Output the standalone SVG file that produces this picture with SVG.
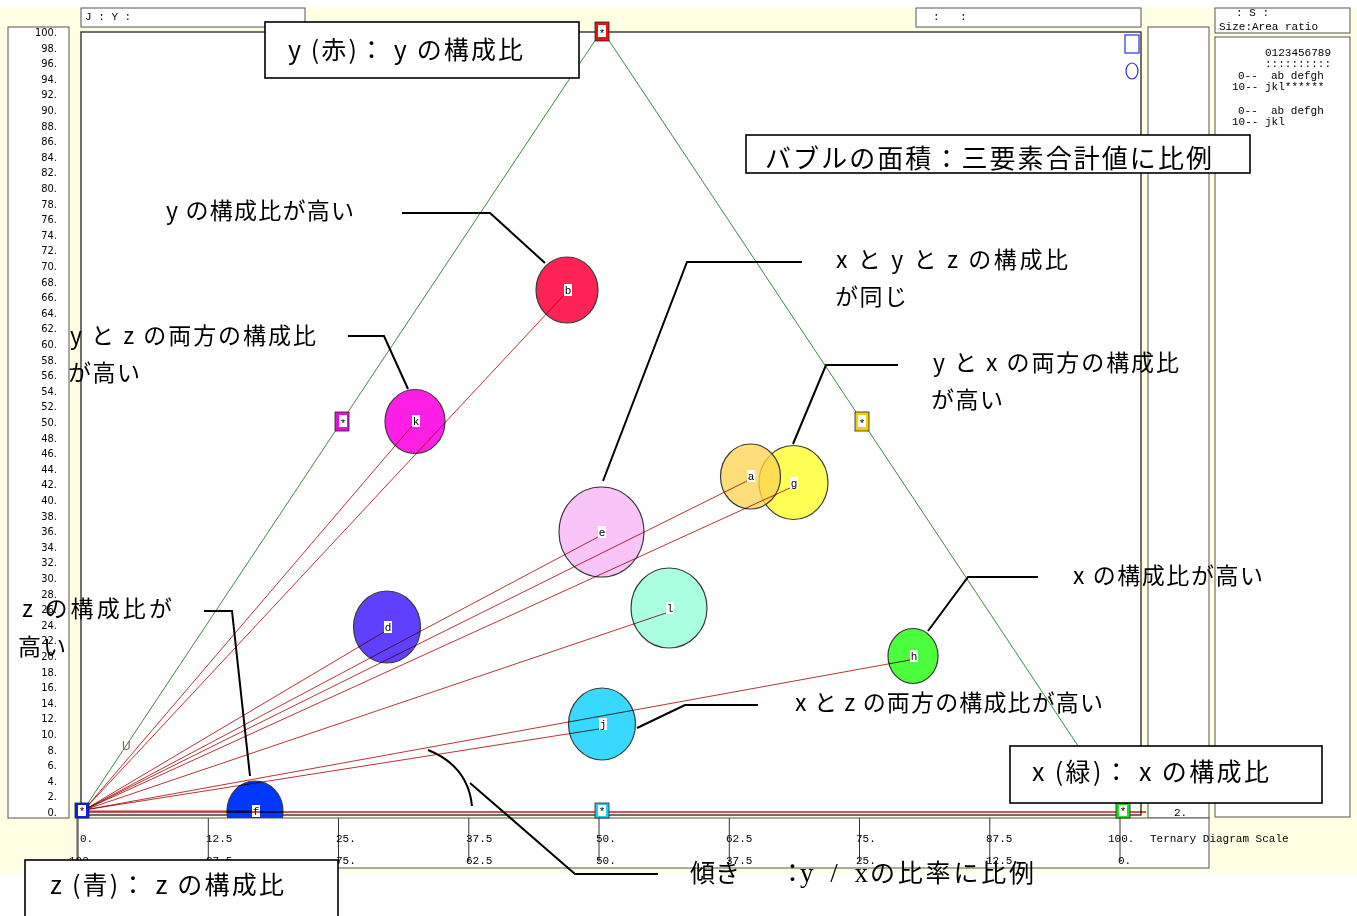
<svg xmlns="http://www.w3.org/2000/svg" width="1357" height="916" viewBox="0 0 1357 916">
<style>
.ax{font-family:"Liberation Sans Narrow","DejaVu Sans Condensed","Liberation Sans",sans-serif;font-size:11px;fill:#000;text-anchor:end}
.mono{font-family:"Liberation Mono","DejaVu Sans Mono",monospace;font-size:11px;fill:#000}
.jp{font-family:"Noto Sans CJK JP","Noto Sans",sans-serif;font-size:23px;fill:#000}
.jpb{font-family:"Noto Sans CJK JP","Noto Sans",sans-serif;font-size:25px;fill:#000}
.ser{font-family:"Liberation Serif","Noto Sans CJK JP",serif;font-size:27px;fill:#000}
.box{fill:#fff;stroke:#000;stroke-width:1.6}
.panel{fill:#fff;stroke:#555;stroke-width:1}
.lead{fill:none;stroke:#000;stroke-width:2}
.ray{stroke:#B83434;stroke-width:1;mix-blend-mode:multiply}
.tri{stroke:#3C8A3C;stroke-width:1;fill:none}
.bub{stroke:#3a3a3a;stroke-width:1.2}
.lbl{fill:#fff}
.lt{font-family:"Liberation Mono","DejaVu Sans Mono",monospace;font-size:11px;fill:#000;text-anchor:middle}
.mk{stroke:#222;stroke-width:0.8}
.tick{stroke:#333;stroke-width:1}
</style>
<defs>
<clipPath id="plotclip"><rect x="81" y="32" width="1060" height="786"/></clipPath>
</defs>

<!-- background -->
<rect x="0" y="0" width="1357" height="916" fill="#fff"/>
<rect x="0" y="8" width="1357" height="865" fill="#FFFFE3"/>

<!-- panels -->
<rect class="panel" x="81" y="8" width="224" height="19"/>
<text class="mono" x="85" y="20">J : Y :</text>
<rect class="panel" x="916" y="8" width="225" height="19"/>
<text class="mono" x="933" y="20">:</text>
<text class="mono" x="960" y="20">:</text>
<rect class="panel" x="8" y="27" width="61" height="791"/>
<rect class="panel" x="81" y="32" width="1060" height="783" style="stroke:#333;stroke-width:1.4"/>
<rect class="panel" x="1148" y="27" width="61" height="791"/>
<text class="mono" x="1174" y="816">2.</text>
<rect class="panel" x="1215" y="8" width="135" height="25"/>
<text class="mono" x="1236" y="16">: S :</text>
<text class="mono" x="1219" y="30">Size:Area ratio</text>
<rect class="panel" x="1215" y="37" width="135" height="780"/>
<text class="mono" x="1265" y="56">0123456789</text>
<text class="mono" x="1265" y="67">::::::::::</text>
<text class="mono" x="1238" y="79" xml:space="preserve">0--  ab defgh</text>
<text class="mono" x="1232" y="90" xml:space="preserve">10-- jkl******</text>
<text class="mono" x="1238" y="114" xml:space="preserve">0--  ab defgh</text>
<text class="mono" x="1232" y="125" xml:space="preserve">10-- jkl</text>

<!-- plot legend symbols -->
<rect x="1125" y="35" width="14" height="18" fill="none" stroke="#2233EE" stroke-width="1.2"/>
<ellipse cx="1132" cy="71" rx="6" ry="8" fill="none" stroke="#2233EE" stroke-width="1.2"/>

<!-- left axis labels -->
<g id="y-axis">
<text class="ax" x="57" y="36">100.</text>
<text class="ax" x="57" y="51.6">98.</text>
<text class="ax" x="57" y="67.2">96.</text>
<text class="ax" x="57" y="82.8">94.</text>
<text class="ax" x="57" y="98.4">92.</text>
<text class="ax" x="57" y="114">90.</text>
<text class="ax" x="57" y="129.6">88.</text>
<text class="ax" x="57" y="145.2">86.</text>
<text class="ax" x="57" y="160.8">84.</text>
<text class="ax" x="57" y="176.4">82.</text>
<text class="ax" x="57" y="192">80.</text>
<text class="ax" x="57" y="207.6">78.</text>
<text class="ax" x="57" y="223.2">76.</text>
<text class="ax" x="57" y="238.8">74.</text>
<text class="ax" x="57" y="254.4">72.</text>
<text class="ax" x="57" y="270">70.</text>
<text class="ax" x="57" y="285.6">68.</text>
<text class="ax" x="57" y="301.2">66.</text>
<text class="ax" x="57" y="316.8">64.</text>
<text class="ax" x="57" y="332.4">62.</text>
<text class="ax" x="57" y="348">60.</text>
<text class="ax" x="57" y="363.6">58.</text>
<text class="ax" x="57" y="379.2">56.</text>
<text class="ax" x="57" y="394.8">54.</text>
<text class="ax" x="57" y="410.4">52.</text>
<text class="ax" x="57" y="426">50.</text>
<text class="ax" x="57" y="441.6">48.</text>
<text class="ax" x="57" y="457.2">46.</text>
<text class="ax" x="57" y="472.8">44.</text>
<text class="ax" x="57" y="488.4">42.</text>
<text class="ax" x="57" y="504">40.</text>
<text class="ax" x="57" y="519.6">38.</text>
<text class="ax" x="57" y="535.2">36.</text>
<text class="ax" x="57" y="550.8">34.</text>
<text class="ax" x="57" y="566.4">32.</text>
<text class="ax" x="57" y="582">30.</text>
<text class="ax" x="57" y="597.6">28.</text>
<text class="ax" x="57" y="613.2">26.</text>
<text class="ax" x="57" y="628.8">24.</text>
<text class="ax" x="57" y="644.4">22.</text>
<text class="ax" x="57" y="660">20.</text>
<text class="ax" x="57" y="675.6">18.</text>
<text class="ax" x="57" y="691.2">16.</text>
<text class="ax" x="57" y="706.8">14.</text>
<text class="ax" x="57" y="722.4">12.</text>
<text class="ax" x="57" y="738">10.</text>
<text class="ax" x="57" y="753.6">8.</text>
<text class="ax" x="57" y="769.2">6.</text>
<text class="ax" x="57" y="784.8">4.</text>
<text class="ax" x="57" y="800.4">2.</text>
<text class="ax" x="57" y="816">0.</text>
</g>

<!-- bottom scale -->
<g id="x-scale">
<rect class="panel" x="77" y="818" width="1132" height="50"/>
<line class="tick" x1="78" y1="818" x2="78" y2="862"/>
<line class="tick" x1="208.3" y1="818" x2="208.3" y2="862"/>
<line class="tick" x1="338.5" y1="818" x2="338.5" y2="862"/>
<line class="tick" x1="468.8" y1="818" x2="468.8" y2="862"/>
<line class="tick" x1="599" y1="818" x2="599" y2="862"/>
<line class="tick" x1="729.3" y1="818" x2="729.3" y2="862"/>
<line class="tick" x1="859.5" y1="818" x2="859.5" y2="862"/>
<line class="tick" x1="989.8" y1="818" x2="989.8" y2="862"/>
<line class="tick" x1="1120" y1="818" x2="1120" y2="862"/>
<text class="mono" x="80" y="842">0.</text>
<text class="mono" x="206" y="842">12.5</text>
<text class="mono" x="336" y="842">25.</text>
<text class="mono" x="466" y="842">37.5</text>
<text class="mono" x="596" y="842">50.</text>
<text class="mono" x="726" y="842">62.5</text>
<text class="mono" x="856" y="842">75.</text>
<text class="mono" x="986" y="842">87.5</text>
<text class="mono" x="1108" y="842">100.</text>
<text class="mono" x="1150" y="842">Ternary Diagram Scale</text>
<text class="mono" x="69" y="864">100.</text>
<text class="mono" x="206" y="864">87.5</text>
<text class="mono" x="336" y="864">75.</text>
<text class="mono" x="466" y="864">62.5</text>
<text class="mono" x="596" y="864">50.</text>
<text class="mono" x="726" y="864">37.5</text>
<text class="mono" x="856" y="864">25.</text>
<text class="mono" x="986" y="864">12.5</text>
<text class="mono" x="1118" y="864">0.</text>
</g>

<!-- triangle -->
<g id="triangle">
<polyline class="tri" points="82,812 602,30 1122,812"/>
<text x="122" y="750" style="font-family:'Liberation Sans',sans-serif;font-size:12px;fill:#C04040">U</text>
</g>

<!-- bubbles -->
<g id="nodes">
<g id="node-b"><ellipse class="bub" cx="567" cy="290" rx="31" ry="33" fill="#FF2255"/><rect class="lbl" x="564" y="284" width="8" height="12"/><text class="lt" x="568" y="294">b</text></g>
<g id="node-k"><ellipse class="bub" cx="415" cy="421.5" rx="30" ry="32" fill="#FF1EE6"/><rect class="lbl" x="412" y="415" width="8" height="12"/><text class="lt" x="416" y="425">k</text></g>
<g id="node-e"><ellipse class="bub" cx="601.5" cy="532" rx="42.5" ry="45" fill="#F9C4F8"/><rect class="lbl" x="598" y="526" width="8" height="12"/><text class="lt" x="602" y="536">e</text></g>
<g id="node-g"><ellipse class="bub" cx="793.5" cy="482.5" rx="34.5" ry="37" fill="#FFFF55"/><rect class="lbl" x="790" y="477" width="8" height="12"/><text class="lt" x="794" y="487">g</text></g>
<g id="node-a"><ellipse class="bub" cx="750.5" cy="476.5" rx="30" ry="32.5" fill="#FFD452" fill-opacity="0.78"/><rect class="lbl" x="747" y="470" width="8" height="12"/><text class="lt" x="751" y="480">a</text></g>
<g id="node-d"><ellipse class="bub" cx="387" cy="627" rx="33.5" ry="36" fill="#6040FF"/><rect class="lbl" x="384" y="621" width="8" height="12"/><text class="lt" x="388" y="631">d</text></g>
<g id="node-l"><ellipse class="bub" cx="669" cy="608" rx="38" ry="40" fill="#AAFFE0"/><rect class="lbl" x="666" y="602" width="8" height="12"/><text class="lt" x="670" y="612">l</text></g>
<g id="node-h"><ellipse class="bub" cx="913" cy="656" rx="25" ry="27.5" fill="#4CFF3C"/><rect class="lbl" x="910" y="650" width="8" height="12"/><text class="lt" x="914" y="660">h</text></g>
<g id="node-j"><ellipse class="bub" cx="602" cy="724" rx="33.5" ry="36" fill="#38D8FF"/><rect class="lbl" x="599" y="718" width="8" height="12"/><text class="lt" x="603" y="728">j</text></g>
<g id="node-f"><ellipse class="bub" cx="255" cy="811" rx="28" ry="30" fill="#0038FF" clip-path="url(#plotclip)"/><rect class="lbl" x="252" y="805" width="8" height="12"/><text class="lt" x="256" y="815">f</text></g>
</g>

<!-- connectors -->
<g id="connectors">
<line class="ray" x1="84" y1="812" x2="1146" y2="812" style="stroke:#D01818;stroke-width:1.6"/>
<line class="ray" x1="84" y1="810" x2="564" y2="295"/>
<line class="ray" x1="84" y1="810" x2="412" y2="426"/>
<line class="ray" x1="84" y1="810" x2="598" y2="537"/>
<line class="ray" x1="84" y1="810" x2="747" y2="481"/>
<line class="ray" x1="84" y1="810" x2="790" y2="488"/>
<line class="ray" x1="84" y1="810" x2="384" y2="632"/>
<line class="ray" x1="84" y1="810" x2="666" y2="613"/>
<line class="ray" x1="84" y1="810" x2="910" y2="660"/>
<line class="ray" x1="84" y1="810" x2="599" y2="729"/>
<line class="ray" x1="84" y1="811" x2="252" y2="811"/>
<!-- leader lines -->
<polyline class="lead" points="402,213 490,213 545,263"/>
<polyline class="lead" points="348,336 384,336 408,389"/>
<polyline class="lead" points="802,262 687,262 603,481"/>
<polyline class="lead" points="898,365 826,365 793,444"/>
<polyline class="lead" points="1038,577 968,577 928,631"/>
<polyline class="lead" points="204,611 232,611 250,776"/>
<polyline class="lead" points="758,705 685,705 637,728"/>
<path class="lead" d="M428,750 Q468,766 472,806"/>
<polyline class="lead" points="470,783 575,874 658,874"/>
</g>

<!-- axis markers -->
<g id="markers">
<rect class="mk" x="595" y="22" width="14" height="19" fill="#EE1111"/><rect x="598" y="25" width="8" height="12" fill="#fff"/><text class="lt" x="602" y="37">*</text>
<rect class="mk" x="335" y="412" width="14" height="19" fill="#E010E0"/><rect x="339" y="415" width="8" height="12" fill="#fff"/><text class="lt" x="343" y="427">*</text>
<rect class="mk" x="855" y="412" width="14" height="19" fill="#F2D000"/><rect x="858" y="415" width="8" height="12" fill="#fff"/><text class="lt" x="862" y="427">*</text>
<rect class="mk" x="75" y="803" width="14" height="15" fill="#1020EE"/><rect x="78" y="805" width="8" height="11" fill="#fff"/><text class="lt" x="82" y="815">*</text>
<rect class="mk" x="595" y="803" width="14" height="15" fill="#22CCEE"/><rect x="598" y="805" width="8" height="11" fill="#fff"/><text class="lt" x="602" y="815">*</text>
<rect class="mk" x="1116" y="803" width="14" height="15" fill="#22DD22"/><rect x="1119" y="805" width="8" height="11" fill="#fff"/><text class="lt" x="1123" y="815">*</text>
</g>

<!-- annotation boxes -->
<g id="box-y">
<rect class="box" x="265" y="22" width="314" height="56"/>
<text class="jpb" x="288" y="59" textLength="235" lengthAdjust="spacing">y (赤)： y の構成比</text>
</g>
<g id="box-size">
<rect class="box" x="746" y="135" width="504" height="38"/>
<text class="jpb" x="765" y="168" style="font-size:26px" textLength="447" lengthAdjust="spacing">バブルの面積：三要素合計値に比例</text>
</g>
<g id="box-x">
<rect class="box" x="1010" y="746" width="312" height="57"/>
<text class="jpb" x="1032" y="781" textLength="237" lengthAdjust="spacing">x (緑)： x の構成比</text>
</g>
<g id="box-z">
<rect class="box" x="25" y="860" width="313" height="70"/>
<text class="jpb" x="50" y="894" textLength="234" lengthAdjust="spacing">z (青)： z の構成比</text>
</g>

<!-- free annotations -->
<g id="notes">
<text class="jp" x="166" y="219" textLength="188" lengthAdjust="spacing">y の構成比が高い</text>
<text class="jp" x="70" y="344" textLength="246" lengthAdjust="spacing">y と z の両方の構成比</text>
<text class="jp" x="68" y="381" textLength="72" lengthAdjust="spacing">が高い</text>
<text class="jp" x="836" y="268" textLength="232" lengthAdjust="spacing">x と y と z の構成比</text>
<text class="jp" x="835" y="305" textLength="72" lengthAdjust="spacing">が同じ</text>
<text class="jp" x="933" y="371" textLength="246" lengthAdjust="spacing">y と x の両方の構成比</text>
<text class="jp" x="931" y="408" textLength="72" lengthAdjust="spacing">が高い</text>
<text class="jp" x="1073" y="584" textLength="190" lengthAdjust="spacing">x の構成比が高い</text>
<text class="jp" x="22" y="617" textLength="150" lengthAdjust="spacing">z の構成比が</text>
<text class="jp" x="18" y="655" textLength="48" lengthAdjust="spacing">高い</text>
<text class="jp" x="795" y="711" textLength="308" lengthAdjust="spacing">x と z の両方の構成比が高い</text>
<text class="jpb" x="690" y="882">傾き</text>
<text class="jpb" x="780" y="882">：</text>
<text class="ser" x="800" y="882" textLength="68" lengthAdjust="spacing">y / x</text>
<text class="jpb" x="870" y="882" textLength="164" lengthAdjust="spacing">の比率に比例</text>
</g>
</svg>
